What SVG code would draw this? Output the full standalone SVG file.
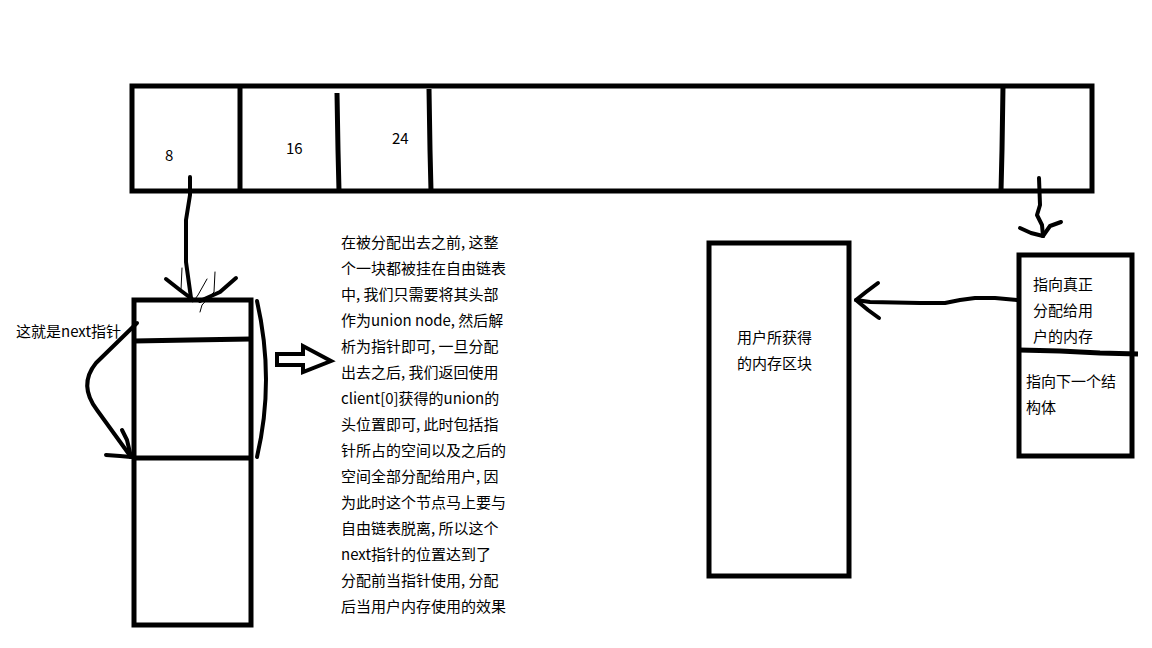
<svg xmlns="http://www.w3.org/2000/svg" width="1152" height="648" viewBox="0 0 1152 648">
<style>
.box{fill:none;stroke:#000;stroke-width:5;stroke-linejoin:miter}
.ln{fill:none;stroke:#000;stroke-width:4;stroke-linecap:round;stroke-linejoin:round}
.thin{fill:none;stroke:#000;stroke-width:1;stroke-linecap:round}
.t{font-family:"Noto Sans CJK SC","Liberation Sans",sans-serif;font-size:15px;fill:#000}
</style>
<rect width="1152" height="648" fill="#fff"/>
<g id="freelist-array">
<rect class="box" x="132" y="86" width="960" height="105"/>
<line class="box" x1="240" y1="86" x2="240" y2="191"/>
<polyline class="box" points="337,93 338,150 339,191"/>
<polyline class="box" points="429,89 430,150 431,191"/>
<polyline class="box" points="1003,86 1002,150 1001,191"/>
<text class="t" x="165" y="161">8</text>
<text class="t" x="286" y="154">16</text>
<text class="t" x="392" y="144">24</text>
</g>
<g id="chunk">
<rect class="box" x="134" y="300" width="117" height="325"/>
<polyline class="box" points="134,341 190,340 251,339"/>
<line class="box" x1="134" y1="458" x2="251" y2="458"/>
<text class="t" x="16" y="337">这就是next指针</text>
</g>
<g id="bracket">
<path class="ln" d="M257,301 Q275,380 257,457"/>
</g>
<g id="hollow-arrow">
<polygon points="277,354 303,354 303,346 331,361 303,372 303,365 277,365" fill="#fff" stroke="#000" stroke-width="4" stroke-linejoin="miter"/>
</g>
<g id="explanation">
<text class="t" x="341" y="248">在被分配出去之前, 这整</text>
<text class="t" x="341" y="274">个一块都被挂在自由链表</text>
<text class="t" x="341" y="300">中, 我们只需要将其头部</text>
<text class="t" x="341" y="326">作为union node, 然后解</text>
<text class="t" x="341" y="352">析为指针即可, 一旦分配</text>
<text class="t" x="341" y="378">出去之后, 我们返回使用</text>
<text class="t" x="341" y="404">client[0]获得的union的</text>
<text class="t" x="341" y="430">头位置即可, 此时包括指</text>
<text class="t" x="341" y="456">针所占的空间以及之后的</text>
<text class="t" x="341" y="482">空间全部分配给用户, 因</text>
<text class="t" x="341" y="508">为此时这个节点马上要与</text>
<text class="t" x="341" y="534">自由链表脱离, 所以这个</text>
<text class="t" x="341" y="560">next指针的位置达到了</text>
<text class="t" x="341" y="586">分配前当指针使用, 分配</text>
<text class="t" x="341" y="612">后当用户内存使用的效果</text>
</g>
<g id="user-block">
<rect class="box" x="709" y="243" width="140" height="333"/>
<text class="t" x="737" y="343">用户所获得</text>
<text class="t" x="737" y="369">的内存区块</text>
</g>
<g id="struct">
<rect class="box" x="1019" y="255" width="113" height="201"/>
<polyline class="box" points="1019,350 1060,351 1100,353 1138,354"/>
<text class="t" x="1033" y="290">指向真正</text>
<text class="t" x="1033" y="316">分配给用</text>
<text class="t" x="1033" y="342">户的内存</text>
<text class="t" x="1026" y="387">指向下一个结</text>
<text class="t" x="1026" y="413">构体</text>
</g>
<g id="connectors">
<polyline class="ln" points="190,177 190,195 186,220 186,262 191,298"/>
<polyline class="ln" points="166,279 180,290 192,299"/>
<polyline class="ln" points="236,278 220,292 200,301"/>
<polyline class="thin" points="182,268 181,290 190,298"/>
<polyline class="thin" points="215,272 214,292 202,305 200,312"/>
<polyline class="thin" points="207,279 198,295 193,302"/>
<path class="ln" d="M137,323 L96,363 Q78,385 97,410 L131,457"/>
<polyline class="ln" points="122,430 127,440 131,457"/>
<polyline class="ln" points="106,455 120,456 131,457"/>
<polyline class="ln" points="1017,300 995,298 975,298 960,300 945,303 920,303 870,302 856,300"/>
<polyline class="ln" points="878,283 866,292 856,300 868,310 879,318"/>
<polyline class="ln" points="1039,178 1040,205 1037,215 1042,225 1043,236"/>
<polyline class="ln" points="1020,228 1031,233 1043,236"/>
<polyline class="ln" points="1061,222 1050,226 1043,236"/>
</g>
</svg>
